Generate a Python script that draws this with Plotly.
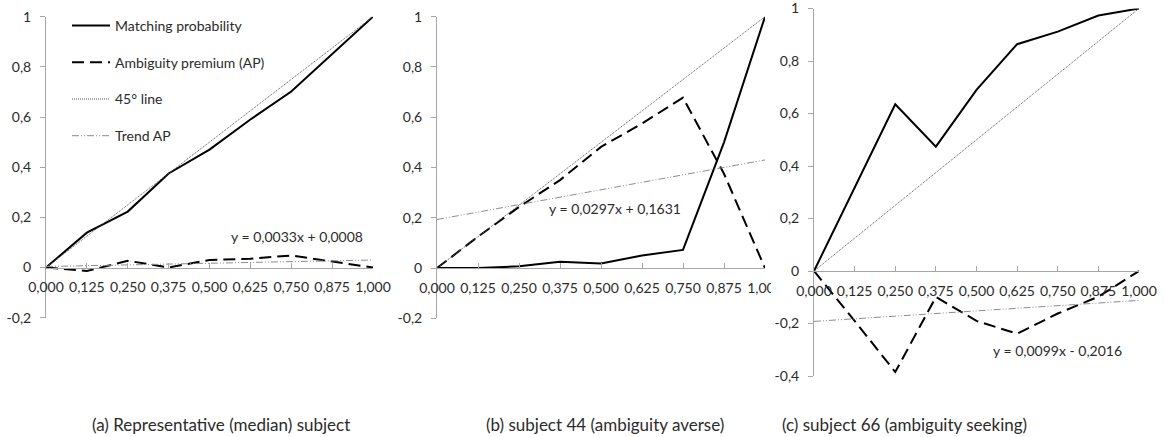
import plotly.graph_objects as go

# ---------------- data ----------------
x_vals = [0, 0.125, 0.25, 0.375, 0.5, 0.625, 0.75, 0.875, 1.0]
x_ticktext = ["0,000", "0,125", "0,250", "0,375", "0,500", "0,625", "0,750", "0,875", "1,000"]

mp_a = [0, 0.139, 0.223, 0.375, 0.47, 0.59, 0.702, 0.85, 1.0]
ap_a = [0, -0.014, 0.027, 0.0, 0.03, 0.035, 0.048, 0.025, 0.0]
mp_b = [0, 0.0, 0.007, 0.025, 0.018, 0.05, 0.072, 0.5, 1.0]
ap_b = [0, 0.125, 0.243, 0.35, 0.482, 0.575, 0.678, 0.375, 0.0]
mp_c = [0, 0.315, 0.635, 0.474, 0.69, 0.864, 0.912, 0.973, 1.0]
ap_c = [0, -0.19, -0.385, -0.099, -0.19, -0.239, -0.162, -0.098, 0.0]

diag_x = [0, 1]
diag_y = [0, 1]
trend_x = [0, 1]
trend_a = [0.004, 0.030]
trend_b = [0.193, 0.430]
trend_c = [-0.192, -0.112]

yt_ab_vals = [-0.2, 0, 0.2, 0.4, 0.6, 0.8, 1]
yt_ab_text = ["-0,2", "0", "0,2", "0,4", "0,6", "0,8", "1"]
yt_c_vals = [-0.4, -0.2, 0, 0.2, 0.4, 0.6, 0.8, 1]
yt_c_text = ["-0,4", "-0,2", "0", "0,2", "0,4", "0,6", "0,8", "1"]

eq_texts = ["y = 0,0033x + 0,0008", "y = 0,0297x + 0,1631", "y = 0,0099x - 0,2016"]
eq_pos = [(0.768, 0.122), (0.544, 0.236), (0.75, -0.301)]
captions = ["(a) Representative (median) subject", "(b) subject 44 (ambiguity averse)",
            "(c) subject 66 (ambiguity seeking)"]
names = ["Matching probability", "Ambiguity premium (AP)", "45° line", "Trend AP"]

# ---------------- layout geometry (pixels) ----------------
W, H = 1165, 437
FONT = "Lato"
FS = 14
TXT = "#2b2b2b"
AXC = "#a6a6a6"

panels = [
    dict(x0=46, x1=373, ytop=16.7, ybot=317.7, yr=[-0.2, 1], yv=yt_ab_vals, yt=yt_ab_text,
         mp=mp_a, ap=ap_a, tr=trend_a, cap_x=221),
    dict(x0=437, x1=765, ytop=16.7, ybot=318.3, yr=[-0.2, 1], yv=yt_ab_vals, yt=yt_ab_text,
         mp=mp_b, ap=ap_b, tr=trend_b, cap_x=605),
    dict(x0=814, x1=1139, ytop=8.5, ybot=376, yr=[-0.4, 1], yv=yt_c_vals, yt=yt_c_text,
         mp=mp_c, ap=ap_c, tr=trend_c, cap_x=904),
]

fig = go.Figure()
annotations = []
layout_axes = {}

for i, p in enumerate(panels):
    n = "" if i == 0 else str(i + 1)
    xa, ya = "x" + n, "y" + n
    show = i == 0
    fig.add_trace(go.Scatter(x=x_vals, y=p["mp"], mode="lines", name=names[0], xaxis=xa, yaxis=ya,
                             line=dict(color="black", width=2), showlegend=show, legendgroup="g1"))
    fig.add_trace(go.Scatter(x=x_vals, y=p["ap"], mode="lines", name=names[1], xaxis=xa, yaxis=ya,
                             line=dict(color="black", width=2, dash="12px,6px"),
                             showlegend=show, legendgroup="g2"))
    fig.add_trace(go.Scatter(x=diag_x, y=diag_y, mode="lines", name=names[2], xaxis=xa, yaxis=ya,
                             line=dict(color="#555555", width=1, dash="1px,1px"),
                             showlegend=show, legendgroup="g3"))
    fig.add_trace(go.Scatter(x=trend_x, y=p["tr"], mode="lines", name=names[3], xaxis=xa, yaxis=ya,
                             line=dict(color="#8c8c8c", width=1, dash="7px,2px,1px,2px,1px,2px"),
                             showlegend=show, legendgroup="g4"))

    dom_y = [1 - p["ybot"] / H, 1 - p["ytop"] / H]
    y0, y1 = p["yr"]
    pos = dom_y[0] + (0 - y0) / (y1 - y0) * (dom_y[1] - dom_y[0])
    layout_axes["xaxis" + n] = dict(
        domain=[p["x0"] / W, p["x1"] / W], range=[0, 1], anchor="free", position=pos,
        tickvals=x_vals, ticktext=x_ticktext, ticks="inside", ticklen=5, tickcolor=AXC,
        showline=True, linecolor=AXC, linewidth=1, showgrid=False, zeroline=False,
        tickfont=dict(family=FONT, size=FS, color=TXT), ticklabelstandoff=7, automargin=False,
        ticklabeloverflow="allow")
    layout_axes["yaxis" + n] = dict(
        domain=dom_y, range=p["yr"], anchor=xa,
        tickvals=p["yv"], ticktext=p["yt"], ticks="outside", ticklen=5, tickcolor=AXC,
        showline=True, linecolor=AXC, linewidth=1, showgrid=False, zeroline=False,
        tickfont=dict(family=FONT, size=FS, color=TXT), ticklabelstandoff=6, automargin=False,
        ticklabeloverflow="allow")

    ex, ey = eq_pos[i]
    annotations.append(dict(x=ex, y=ey, xref=xa, yref=ya, text=eq_texts[i], showarrow=False,
                            font=dict(family=FONT, size=FS, color=TXT), xanchor="center", yanchor="middle"))
    annotations.append(dict(x=p["cap_x"] / W, y=1 - 424 / H, xref="paper", yref="paper", text=captions[i],
                            showarrow=False, font=dict(family=FONT, size=17, color=TXT),
                            xanchor="center", yanchor="middle"))

fig.update_layout(
    template="none",
    width=W, height=H, margin=dict(l=0, r=0, t=0, b=0, autoexpand=False),
    paper_bgcolor="white", plot_bgcolor="white",
    showlegend=True,
    legend=dict(x=67 / W, y=1 - 10 / H, xanchor="left", yanchor="top", tracegroupgap=15.5,
                font=dict(family=FONT, size=FS, color=TXT), bgcolor="rgba(0,0,0,0)", itemwidth=38,
                borderwidth=0),
    annotations=annotations,
    shapes=[dict(type="rect", xref="paper", yref="paper", x0=771 / W, x1=789 / W,
                 y0=1 - 308 / H, y1=1 - 276 / H, fillcolor="white", line=dict(width=0), layer="above")],
    **layout_axes,
)

fig.write_html("out.html", config={"displayModeBar": False},
               post_script="document.body.style.margin='0';document.body.style.overflow='hidden';")
